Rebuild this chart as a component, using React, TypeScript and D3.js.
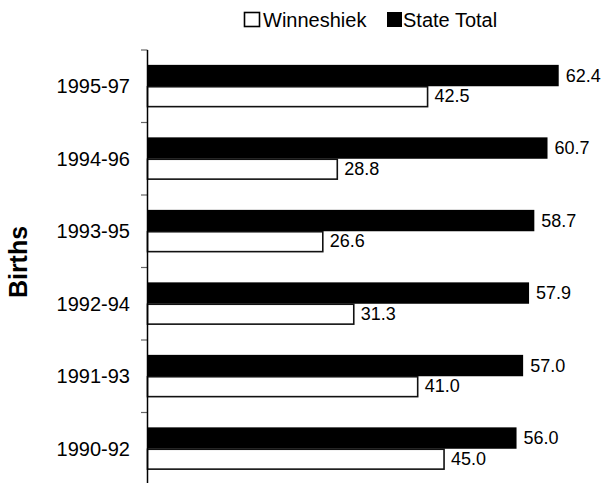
import React from "react";
import * as d3 from "d3";

const categories = ["1995-97", "1994-96", "1993-95", "1992-94", "1991-93", "1990-92"];
const seriesNames = ["State Total", "Winneshiek"];
const stateTotal = [62.4, 60.7, 58.7, 57.9, 57.0, 56.0];
const winneshiek = [42.5, 28.8, 26.6, 31.3, 41.0, 45.0];
const axisTitle = "Births";

const W = 605;
const H = 483;
const FONT = "'Liberation Sans', Arial, Helvetica, sans-serif";

export default function App() {
  const x0 = 147.5;
  const x = d3.scaleLinear().domain([0, 70]).range([x0, x0 + 6.59 * 70]);
  const y = d3.scaleBand<string>().domain(categories).range([50, 485]).paddingInner(0.41).paddingOuter(0.205);
  const sub = d3.scaleBand<string>().domain(seriesNames).range([0, y.bandwidth()]).padding(0);
  const fmt = d3.format(".1f");
  const step = y.step();
  const tickYs = categories.map((_, i) => 50 + i * step);

  return (
    <svg width={W} height={H} style={{ position: "absolute", left: 0, top: 0, background: "#fff" }} fontFamily={FONT}>
      {/* legend */}
      <rect x={244.5} y={12.5} width={15} height={14} fill="#fff" stroke="#000" strokeWidth={1.6} />
      <text x={263} y={26.5} fontSize={20} fill="#000">Winneshiek</text>
      <rect x={387} y={12} width={15} height={15} fill="#000" />
      <text x={403} y={26.5} fontSize={20} fill="#000">State Total</text>

      {/* axis title */}
      <text transform={`translate(27,${262}) rotate(-90)`} textAnchor="middle" fontSize={25} fontWeight="bold" fill="#000">
        {axisTitle}
      </text>

      {/* bars */}
      {categories.map((c, i) => {
        const gy = y(c)!;
        const by = gy + sub("State Total")!;
        const wy = gy + sub("Winneshiek")!;
        const bh = sub.bandwidth();
        return (
          <g key={c}>
            <rect x={x(0)} y={by} width={x(stateTotal[i]) - x(0)} height={bh} fill="#000" />
            <rect x={x(0)} y={wy + 0.5} width={x(winneshiek[i]) - x(0)} height={bh - 1.5} fill="#fff" stroke="#111" strokeWidth={1.6} />
            <text x={x(stateTotal[i]) + 7} y={by + bh / 2} dy="0.35em" fontSize={18} fill="#000">
              {fmt(stateTotal[i])}
            </text>
            <text x={x(winneshiek[i]) + 7} y={wy + bh / 2 - 1} dy="0.35em" fontSize={18} fill="#000">
              {fmt(winneshiek[i])}
            </text>
            <text x={130} y={gy + y.bandwidth() / 2} dy="0.35em" textAnchor="end" fontSize={20} fill="#000">
              {c}
            </text>
          </g>
        );
      })}

      {/* axis */}
      {tickYs.map((t, i) => (
        <line key={i} x1={141} x2={x0} y1={t} y2={t} stroke="#666" strokeWidth={1.2} />
      ))}
      <line x1={x0} x2={x0} y1={50} y2={485} stroke="#000" strokeWidth={1.5} />
    </svg>
  );
}
